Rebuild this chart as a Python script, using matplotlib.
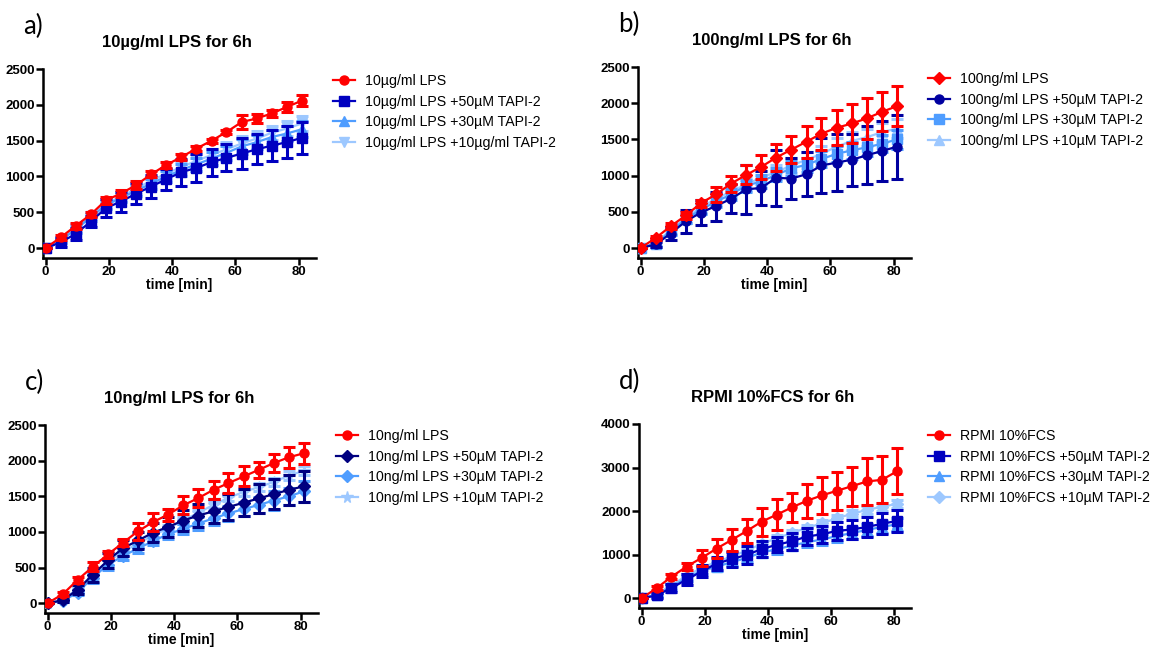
import matplotlib.pyplot as plt

plt.rcParams['font.family'] = ['Liberation Sans', 'DejaVu Sans']

# time points (min)
time_min = [0, 4.8, 9.5, 14.3, 19.1, 23.8, 28.6, 33.4, 38.1, 42.9, 47.7, 52.5, 57.2, 62.0, 66.8, 71.5, 76.3, 81.1]

# a) 10ug/ml LPS
a_lps = [0, 150, 310, 470, 670, 760, 880, 1030, 1160, 1270, 1390, 1500, 1620, 1760, 1810, 1880, 1970, 2060]
a_lps_err = [0, 30, 40, 40, 50, 50, 60, 40, 40, 40, 30, 30, 30, 100, 60, 50, 70, 80]
a_t50 = [0, 80, 200, 370, 560, 650, 760, 860, 960, 1060, 1120, 1200, 1260, 1320, 1380, 1430, 1480, 1540]
a_t50_err = [0, 60, 80, 80, 120, 140, 150, 160, 150, 190, 190, 190, 190, 220, 210, 220, 220, 220]
a_t30 = [0, 110, 260, 430, 600, 700, 800, 900, 1000, 1090, 1170, 1250, 1330, 1420, 1480, 1550, 1600, 1660]
a_t30_err = [0, 40, 50, 50, 60, 60, 70, 70, 80, 80, 90, 90, 100, 100, 100, 100, 110, 110]
a_t10 = [0, 120, 280, 450, 620, 720, 830, 940, 1040, 1130, 1220, 1300, 1380, 1460, 1530, 1610, 1670, 1740]
a_t10_err = [0, 40, 50, 50, 60, 60, 70, 70, 80, 80, 90, 90, 100, 100, 100, 100, 110, 110]
a_labels = ['10µg/ml LPS', '10µg/ml LPS +50µM TAPI-2', '10µg/ml LPS +30µM TAPI-2', '10µg/ml LPS +10µg/ml TAPI-2']

# b) 100ng/ml LPS
b_lps = [0, 140, 300, 450, 620, 740, 890, 1010, 1120, 1250, 1360, 1470, 1580, 1660, 1720, 1790, 1880, 1960]
b_lps_err = [0, 30, 40, 50, 50, 100, 110, 130, 160, 190, 190, 220, 220, 240, 270, 280, 270, 280]
b_t50 = [0, 50, 200, 370, 490, 580, 680, 810, 830, 970, 960, 1020, 1140, 1180, 1220, 1280, 1340, 1400]
b_t50_err = [0, 40, 90, 160, 170, 200, 200, 340, 230, 390, 280, 300, 385, 390, 360, 400, 420, 440]
b_t30 = [0, 60, 230, 400, 530, 640, 740, 860, 920, 1010, 1100, 1150, 1230, 1300, 1350, 1390, 1440, 1500]
b_t30_err = [0, 40, 50, 60, 60, 70, 80, 80, 90, 90, 100, 100, 110, 110, 120, 120, 120, 130]
b_t10 = [0, 70, 250, 420, 560, 680, 780, 880, 970, 1050, 1140, 1220, 1300, 1400, 1480, 1530, 1600, 1650]
b_t10_err = [0, 40, 60, 70, 70, 80, 80, 90, 90, 100, 100, 110, 110, 120, 120, 120, 130, 130]
b_labels = ['100ng/ml LPS', '100ng/ml LPS +50µM TAPI-2', '100ng/ml LPS +30µM TAPI-2', '100ng/ml LPS +10µM TAPI-2']

# c) 10ng/ml LPS
c_lps = [0, 126, 326, 512, 684, 847, 1010, 1140, 1243, 1373, 1476, 1592, 1685, 1778, 1872, 1965, 2048, 2104]
c_lps_err = [0, 30, 40, 60, 50, 50, 117, 126, 84, 125, 125, 126, 140, 140, 115, 125, 150, 150]
c_t50 = [0, 40, 190, 400, 600, 770, 880, 990, 1070, 1160, 1230, 1290, 1350, 1410, 1470, 1530, 1590, 1640]
c_t50_err = [0, 30, 60, 100, 100, 110, 120, 130, 140, 150, 160, 170, 180, 190, 200, 210, 210, 220]
c_t30 = [0, 30, 150, 360, 540, 660, 770, 870, 970, 1040, 1120, 1190, 1260, 1320, 1380, 1440, 1500, 1570]
c_t30_err = [0, 20, 40, 70, 70, 60, 60, 60, 70, 70, 90, 90, 100, 100, 110, 130, 120, 150]
c_t10 = [0, 50, 200, 380, 580, 720, 840, 950, 1050, 1160, 1270, 1380, 1480, 1560, 1630, 1700, 1790, 1860]
c_t10_err = [0, 20, 30, 40, 40, 40, 40, 40, 50, 50, 50, 50, 50, 60, 60, 60, 60, 60]
c_labels = ['10ng/ml LPS', '10ng/ml LPS +50µM TAPI-2', '10ng/ml LPS +30µM TAPI-2', '10ng/ml LPS +10µM TAPI-2']

# d) RPMI 10%FCS
d_ctrl = [0, 236, 495, 731, 930, 1143, 1341, 1547, 1760, 1920, 2088, 2240, 2362, 2469, 2575, 2682, 2720, 2918]
d_ctrl_err = [0, 40, 60, 90, 180, 213, 244, 266, 320, 350, 335, 390, 420, 430, 450, 530, 540, 530]
d_t50 = [0, 70, 240, 430, 620, 800, 900, 1000, 1130, 1230, 1310, 1420, 1470, 1550, 1580, 1640, 1710, 1780]
d_t50_err = [0, 50, 90, 120, 140, 150, 170, 200, 180, 170, 190, 190, 200, 210, 220, 230, 240, 250]
d_t30 = [0, 80, 260, 470, 630, 730, 830, 930, 1050, 1130, 1210, 1290, 1350, 1430, 1500, 1570, 1640, 1700]
d_t30_err = [0, 40, 60, 80, 80, 90, 90, 100, 100, 110, 110, 120, 120, 130, 130, 140, 140, 150]
d_t10 = [0, 100, 300, 520, 700, 840, 960, 1100, 1250, 1380, 1500, 1620, 1720, 1840, 1940, 2030, 2100, 2170]
d_t10_err = [0, 30, 40, 50, 50, 50, 60, 60, 60, 70, 70, 70, 80, 80, 80, 90, 90, 90]
d_labels = ['RPMI 10%FCS', 'RPMI 10%FCS +50µM TAPI-2', 'RPMI 10%FCS +30µM TAPI-2', 'RPMI 10%FCS +10µM TAPI-2']

RED = '#FF0000'
BLUE = '#0000C0'
NAVY_B = '#0000A0'
NAVY = '#000080'
MID = '#4F9DFF'
LIGHT = '#9DC8FF'

W, H = 1159, 648
fig = plt.figure(figsize=(W / 100, H / 100), dpi=100)


def px_axes(left, top, right, bottom):
    return fig.add_axes([left / W, 1 - bottom / H, (right - left) / W, (bottom - top) / H])


def panel(ax, series, errs, colors, markers, labels, ymax, ystep, letter, title, lx, ly):
    handles = []
    for i in reversed(range(len(series))):
        ms = 8.5 if markers[i] == '*' else 6.5
        eb = ax.errorbar(time_min, series[i], yerr=errs[i], color=colors[i], marker=markers[i],
                         markersize=ms, lw=1.6, elinewidth=2.2, capsize=4.5, capthick=2.2,
                         zorder=3 + len(series) - i)
        handles.insert(0, eb.lines[0])
    ax.set_xlim(-0.8, 85.5)
    ax.set_ylim(-ymax * 0.055, ymax)
    ax.set_xticks([0, 20, 40, 60, 80])
    ax.set_yticks(range(0, ymax + 1, ystep))
    for s in ('top', 'right'):
        ax.spines[s].set_visible(False)
    for s in ('left', 'bottom'):
        ax.spines[s].set_linewidth(1.8)
    ax.tick_params(width=1.8, length=5, labelsize=9.5, pad=1)
    for t in ax.get_xticklabels() + ax.get_yticklabels():
        t.set_fontweight('bold')
    ax.set_xlabel('time [min]', fontsize=10, fontweight='bold', labelpad=0)
    bb = ax.get_position()
    fig.text(bb.x0 + bb.width * 0.49, bb.y1 + 26 / H, title, ha='center', va='center',
             fontsize=12, fontweight='bold')
    fig.text(bb.x0 - 20 / W, bb.y1 + 43 / H, letter, ha='left', va='center',
             fontsize=18.5, family=['Lato', 'DejaVu Sans'])
    ax.legend(handles, labels, loc='upper left', bbox_to_anchor=(lx / W, 1 - ly / H),
              bbox_transform=fig.transFigure, frameon=False, fontsize=10.2, numpoints=1,
              borderpad=0, borderaxespad=0, handlelength=1.55, handletextpad=0.7, labelspacing=0.46)


ax_a = px_axes(43, 69, 316, 258)
panel(ax_a, [a_lps, a_t50, a_t30, a_t10], [a_lps_err, a_t50_err, a_t30_err, a_t10_err],
      [RED, BLUE, MID, LIGHT], ['o', 's', '^', 'v'], a_labels, 2500, 500, 'a)', '10µg/ml LPS for 6h', 333, 74)

ax_b = px_axes(638, 67, 911, 258)
panel(ax_b, [b_lps, b_t50, b_t30, b_t10], [b_lps_err, b_t50_err, b_t30_err, b_t10_err],
      [RED, NAVY_B, MID, LIGHT], ['D', 'o', 's', '^'], b_labels, 2500, 500, 'b)', '100ng/ml LPS for 6h', 928, 72)

ax_c = px_axes(45, 425, 318, 613)
panel(ax_c, [c_lps, c_t50, c_t30, c_t10], [c_lps_err, c_t50_err, c_t30_err, c_t10_err],
      [RED, NAVY, MID, LIGHT], ['o', 'D', 'D', '*'], c_labels, 2500, 500, 'c)', '10ng/ml LPS for 6h', 336, 429)

ax_d = px_axes(639, 424, 911, 608)
panel(ax_d, [d_ctrl, d_t50, d_t30, d_t10], [d_ctrl_err, d_t50_err, d_t30_err, d_t10_err],
      [RED, BLUE, MID, LIGHT], ['o', 's', '^', 'D'], d_labels, 4000, 1000, 'd)', 'RPMI 10%FCS for 6h', 928, 429)

fig.savefig('out.png', dpi=100)
